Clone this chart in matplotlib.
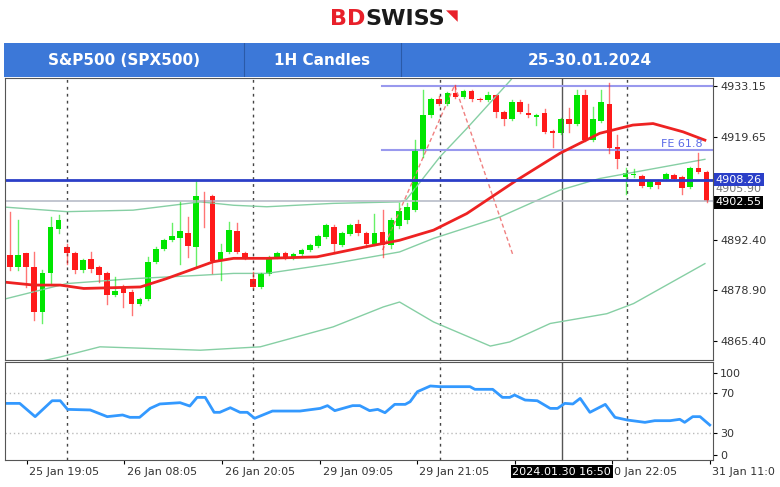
import numpy as np
import matplotlib.pyplot as plt
from matplotlib.patches import Rectangle

# candle data (open, high, low, close), one per hour, index 0..86
opens = [4888.2, 4885.1, 4888.7, 4885.1, 4873.2, 4883.4, 4895.3, 4890.4, 4888.8, 4884.3,
         4887.1, 4885.1, 4883.4, 4877.6, 4879.8, 4878.5, 4875.4, 4876.7, 4886.5, 4889.8,
         4892.2, 4892.9, 4894.0, 4890.4, 4904.3, 4903.9, 4886.7, 4889.1, 4894.6, 4888.7,
         4881.8, 4879.8, 4883.2, 4887.8, 4888.7, 4887.6, 4888.5, 4889.6, 4890.6, 4893.1,
         4895.8, 4890.9, 4893.8, 4896.5, 4894.0, 4891.3, 4894.4, 4890.9, 4896.0, 4897.5,
         4900.2, 4916.1, 4925.4, 4929.6, 4928.5, 4931.2, 4930.3, 4931.9, 4929.6, 4929.4,
         4930.8, 4926.3, 4924.5, 4929.0, 4926.1, 4925.0, 4925.9, 4921.2, 4920.7, 4924.5,
         4923.2, 4930.8, 4918.8, 4924.0, 4928.5, 4917.0, 4909.1, 4909.6, 4909.2, 4906.4,
         4907.7, 4908.6, 4909.6, 4908.9, 4906.4, 4911.5, 4910.4]
closes = [4885.1, 4888.2, 4885.1, 4873.2, 4883.4, 4895.8, 4897.5, 4888.7, 4884.3, 4886.9,
          4884.7, 4882.9, 4877.6, 4878.6, 4878.2, 4875.4, 4876.7, 4886.5, 4890.0, 4892.2,
          4893.4, 4894.6, 4890.6, 4903.9, 4904.1, 4886.7, 4889.1, 4894.9, 4889.1, 4887.6,
          4879.8, 4883.2, 4887.8, 4888.8, 4887.6, 4888.5, 4889.6, 4890.9, 4893.3, 4896.2,
          4891.3, 4894.0, 4896.2, 4894.0, 4891.3, 4894.0, 4890.9, 4897.5, 4900.0, 4901.1,
          4916.1, 4925.4, 4929.6, 4928.5, 4931.2, 4930.3, 4931.9, 4929.6, 4929.4, 4930.8,
          4926.3, 4924.5, 4929.0, 4926.3, 4925.4, 4925.4, 4921.0, 4920.6, 4924.5, 4923.2,
          4930.8, 4918.8, 4924.5, 4929.0, 4916.6, 4913.7, 4910.0, 4909.7, 4906.6, 4907.9,
          4906.8, 4909.9, 4908.6, 4906.2, 4911.3, 4910.4, 4902.55]
highs = [4899.8, 4897.5, 4888.7, 4889.1, 4884.3, 4898.4, 4898.9, 4891.3, 4889.1, 4887.2,
         4889.1, 4885.3, 4883.8, 4882.5, 4880.2, 4878.9, 4877.0, 4887.8, 4890.3, 4892.5,
         4896.7, 4902.4, 4898.4, 4908.2, 4905.0, 4904.1, 4891.3, 4897.1, 4896.7, 4889.1,
         4883.8, 4883.5, 4888.1, 4889.0, 4889.0, 4888.8, 4889.9, 4891.2, 4893.6, 4896.5,
         4896.2, 4894.3, 4896.5, 4897.5, 4894.4, 4899.3, 4900.2, 4898.0, 4902.0, 4902.0,
         4918.8, 4932.1, 4930.0, 4930.5, 4931.5, 4933.4, 4932.2, 4932.2, 4929.9, 4931.7,
         4930.8, 4926.5, 4929.4, 4929.4, 4928.5, 4925.7, 4927.0, 4921.5, 4924.7, 4927.2,
         4932.1, 4932.1, 4927.7, 4932.1, 4933.9, 4920.1, 4911.3, 4911.0, 4909.5, 4908.2,
         4908.2, 4910.2, 4909.9, 4909.2, 4911.6, 4915.3, 4910.6]
lows = [4884.3, 4884.3, 4879.8, 4871.0, 4870.1, 4880.7, 4894.0, 4886.0, 4883.4, 4883.9,
        4883.8, 4881.0, 4875.4, 4877.3, 4874.5, 4872.3, 4875.0, 4876.4, 4886.2, 4889.5,
        4891.9, 4886.0, 4887.8, 4885.1, 4895.8, 4883.4, 4881.6, 4888.8, 4888.8, 4887.3,
        4879.4, 4879.5, 4882.9, 4887.5, 4887.3, 4887.3, 4888.2, 4889.3, 4890.3, 4892.8,
        4888.7, 4890.6, 4893.5, 4893.6, 4890.4, 4890.9, 4887.8, 4890.2, 4895.5, 4896.8,
        4899.9, 4914.4, 4925.0, 4928.2, 4928.2, 4929.9, 4929.9, 4929.3, 4929.1, 4929.1,
        4925.0, 4922.8, 4924.2, 4925.9, 4925.0, 4922.8, 4920.8, 4917.0, 4920.4, 4921.0,
        4922.9, 4918.5, 4918.5, 4923.7, 4915.3, 4911.3, 4904.6, 4908.9, 4906.3, 4906.1,
        4906.0, 4908.3, 4908.2, 4904.4, 4906.1, 4910.1, 4902.3]

# moving average and band lines: (candle index, price) knots
ma_idx = [-1.2, 2.9, 6.2, 9.1, 16.1, 19.3, 25.1, 27.6, 31.7, 37.9, 44.0, 48.1,
          52.3, 56.4, 62.6, 67.9, 72.8, 76.9, 79.4, 83.1, 85.8]
ma_val = [4881.2, 4880.3, 4880.3, 4879.4, 4879.8, 4882.0, 4886.5, 4887.4, 4887.4, 4887.8,
          4890.5, 4892.2, 4894.9, 4899.3, 4908.2, 4915.3, 4920.6, 4922.8, 4923.2, 4921.0, 4918.8]
upper_idx = [-1.2, 7.0, 15.2, 23.5, 27.6, 31.7, 39.9, 48.1, 48.9, 53.1, 56.4, 61.8, 64.7]
upper_val = [4901.1, 4899.8, 4900.2, 4902.4, 4901.5, 4901.1, 4902.0, 4902.4, 4902.9,
             4914.4, 4921.9, 4934.7, 4942.7]
mid_idx = [-1.2, 7.0, 15.2, 23.5, 27.6, 31.7, 39.9, 48.1, 52.3, 60.5, 67.9, 72.8, 85.8]
mid_val = [4876.3, 4880.7, 4882.0, 4882.9, 4883.4, 4883.4, 4886.0, 4889.1, 4892.7,
           4898.4, 4905.5, 4908.6, 4913.7]
lower_idx = [-1.2, 6.2, 11.1, 23.5, 30.9, 39.9, 46.1, 48.1, 52.3, 59.3, 61.7, 66.7, 73.7, 77.0, 85.8]
lower_val = [4857.7, 4861.2, 4863.9, 4863.0, 4863.9, 4869.2, 4874.5, 4875.8, 4870.5,
             4864.1, 4865.2, 4870.1, 4872.7, 4875.4, 4886.0]

# oscillator (lower panel)
osc_idx = [-0.6, 1.2, 3.1, 5.2, 6.2, 7.1, 9.9, 12.0, 13.9, 14.8, 16.0, 17.3, 18.5, 21.0,
           22.2, 23.1, 24.1, 25.2, 25.9, 27.2, 28.4, 29.3, 30.2, 32.4, 35.8, 38.3, 39.2,
           40.1, 42.3, 43.2, 44.4, 45.4, 46.3, 47.5, 48.8, 49.4, 50.3, 51.9, 53.1, 56.8,
           57.4, 59.6, 60.8, 61.7, 62.3, 63.6, 65.1, 66.7, 67.6, 68.5, 69.5, 70.4, 71.6,
           73.5, 74.7, 76.2, 78.4, 79.6, 81.5, 82.7, 83.3, 84.3, 85.2, 86.4]
osc_val = [59.8, 59.8, 46.3, 62.5, 62.5, 53.7, 53.1, 46.3, 48.0, 45.6, 45.6, 54.7, 59.2,
           60.5, 57.1, 65.9, 65.9, 50.7, 50.7, 55.4, 50.7, 50.7, 44.6, 52.0, 52.0, 54.7,
           57.5, 52.4, 57.5, 57.5, 52.4, 53.7, 50.3, 58.8, 58.8, 61.5, 71.7, 77.5, 76.8,
           76.8, 74.1, 74.1, 65.9, 65.9, 68.3, 63.2, 62.5, 54.7, 54.7, 59.8, 59.2, 64.9,
           50.7, 58.8, 45.6, 42.9, 40.5, 42.2, 42.2, 43.6, 40.5, 46.3, 46.3, 37.8]

price_ticks = [4933.15, 4919.65, 4892.40, 4878.90, 4865.40]
time_ticks = [2.1, 14.1, 26.2, 38.3, 50.2, 62.3, 74.3, 86.4]
time_labels = ['25 Jan 19:05', '26 Jan 08:05', '26 Jan 20:05', '29 Jan 09:05',
               '29 Jan 21:05', '', '0 Jan 22:05', '31 Jan 11:0']
vlines_dotted = [7.0, 30.0, 53.1, 76.2]
vline_solid = 68.1
fe_levels = [4933.15, 4916.1]
fe_start = 45.9
support = 4908.26
last_price = 4902.55
zigzag_idx = [46.0, 54.9, 62.1]
zigzag_val = [4889.6, 4933.4, 4888.25]

GREEN = '#00e600'
RED = '#ff1a1a'
BAND = '#86cfa4'
XL = (-0.62, 86.8)

fig = plt.figure(figsize=(7.8, 4.87), dpi=100)

# logo
fig.text(0.468, 0.962, 'BD', color='#e8202a', fontsize=16, fontweight='bold',
         ha='right', va='center')
fig.text(0.468, 0.962, 'SWISS', color='#1a1a1a', fontsize=16, fontweight='bold',
         ha='left', va='center')
fig.text(0.572, 0.968, '\u25e5', color='#e8202a', fontsize=11, ha='left', va='center')

# header band
hdr = fig.add_axes([0.005, 1 - 77 / 487, 0.995, 34 / 487])
hdr.set_xlim(0, 775)
hdr.set_ylim(0, 1)
hdr.add_patch(Rectangle((0, 0), 775, 1, color='#3c78d8'))
for x in [240, 397]:
    hdr.axvline(x, color='#2a5aa8', lw=0.8)
for x, t in [(120, 'S&P500 (SPX500)'), (318, '1H Candles'), (585, '25-30.01.2024')]:
    hdr.text(x, 0.48, t, color='white', fontsize=11, fontweight='bold', ha='center', va='center')
hdr.axis('off')

# main candle panel
ax = fig.add_axes([5 / 780, 1 - 360 / 487, 708 / 780, 282 / 487])
ax.set_xlim(*XL)
ax.set_ylim(4860.4, 4935.3)
for v in vlines_dotted:
    ax.axvline(v, color='#444444', lw=1, ls=(0, (2, 3)))
ax.axvline(vline_solid, color='#555555', lw=1)
ax.plot(upper_idx, upper_val, color=BAND, lw=1)
ax.plot(mid_idx, mid_val, color=BAND, lw=1)
ax.plot(lower_idx, lower_val, color=BAND, lw=1)
ax.axhline(last_price, color='#b8bcc8', lw=1.2)
for lv in fe_levels:
    ax.plot([fe_start, XL[1]], [lv, lv], color='#9999ee', lw=1.5)
ax.text(85.5, fe_levels[1] + 0.4, 'FE 61.8', color='#5a6ae8', fontsize=8, ha='right', va='bottom')
ax.plot(zigzag_idx, zigzag_val, color='#f08080', lw=1, ls=(0, (3, 2)))
for i, (o, h, l, c) in enumerate(zip(opens, highs, lows, closes)):
    col = GREEN if c >= o else RED
    ax.plot([i, i], [l, h], color=col, lw=1, alpha=0.6)
    ax.add_patch(Rectangle((i - 0.35, min(o, c)), 0.7, max(abs(c - o), 0.25), color=col, lw=0))
ax.plot(ma_idx, ma_val, color='#ee2222', lw=2)
ax.axhline(support, color='#2b3fc8', lw=2)

ax.yaxis.tick_right()
ax.set_yticks(price_ticks)
ax.set_yticklabels([f'{p:.2f}' for p in price_ticks], fontsize=8, color='#333333')
ax.tick_params(axis='y', length=3, pad=2)
ax.set_xticks([])
ax.text(1.004, support, '4908.26', transform=ax.get_yaxis_transform(), fontsize=8,
        color='white', va='center', ha='left',
        bbox=dict(boxstyle='square,pad=0.15', fc='#2b3fc8', ec='none'))
ax.text(1.004, 4905.9, '4905.90', transform=ax.get_yaxis_transform(), fontsize=8,
        color='#777777', va='center', ha='left', zorder=1)
ax.text(1.004, last_price - 0.3, '4902.55', transform=ax.get_yaxis_transform(), fontsize=8,
        color='white', va='center', ha='left',
        bbox=dict(boxstyle='square,pad=0.15', fc='black', ec='none'))
for s in ax.spines.values():
    s.set_color('#555555')

# oscillator panel
ax2 = fig.add_axes([5 / 780, 1 - 460 / 487, 708 / 780, 98 / 487])
ax2.set_xlim(*XL)
ax2.set_ylim(2.2, 101.9)
for v in vlines_dotted:
    ax2.axvline(v, color='#444444', lw=1, ls=(0, (2, 3)))
ax2.axvline(vline_solid, color='#555555', lw=1)
for lv in [70, 30]:
    ax2.axhline(lv, color='#bbbbbb', lw=1, ls=(0, (1, 2)))
ax2.plot(osc_idx, osc_val, color='#3399ff', lw=2)
ax2.yaxis.tick_right()
ax2.set_yticks([91, 70, 30, 7])
ax2.set_yticklabels(['100', '70', '30', '0'], fontsize=8, color='#333333')
ax2.tick_params(axis='y', length=3, pad=2)
ax2.set_xticks(time_ticks)
ax2.set_xticklabels([])
ax2.tick_params(axis='x', length=3)
for t, lab in zip(time_ticks, time_labels):
    ax2.text(t + 0.3, -0.12, lab, transform=ax2.get_xaxis_transform(), fontsize=8,
             color='#333333', ha='left', va='center', clip_on=False)
ax2.text(vline_solid, -0.12, '2024.01.30 16:50', transform=ax2.get_xaxis_transform(),
         fontsize=8, color='white', ha='center', va='center',
         bbox=dict(boxstyle='square,pad=0.15', fc='black', ec='none'))
for s in ax2.spines.values():
    s.set_color('#555555')

fig.savefig('out.png', dpi=100)
